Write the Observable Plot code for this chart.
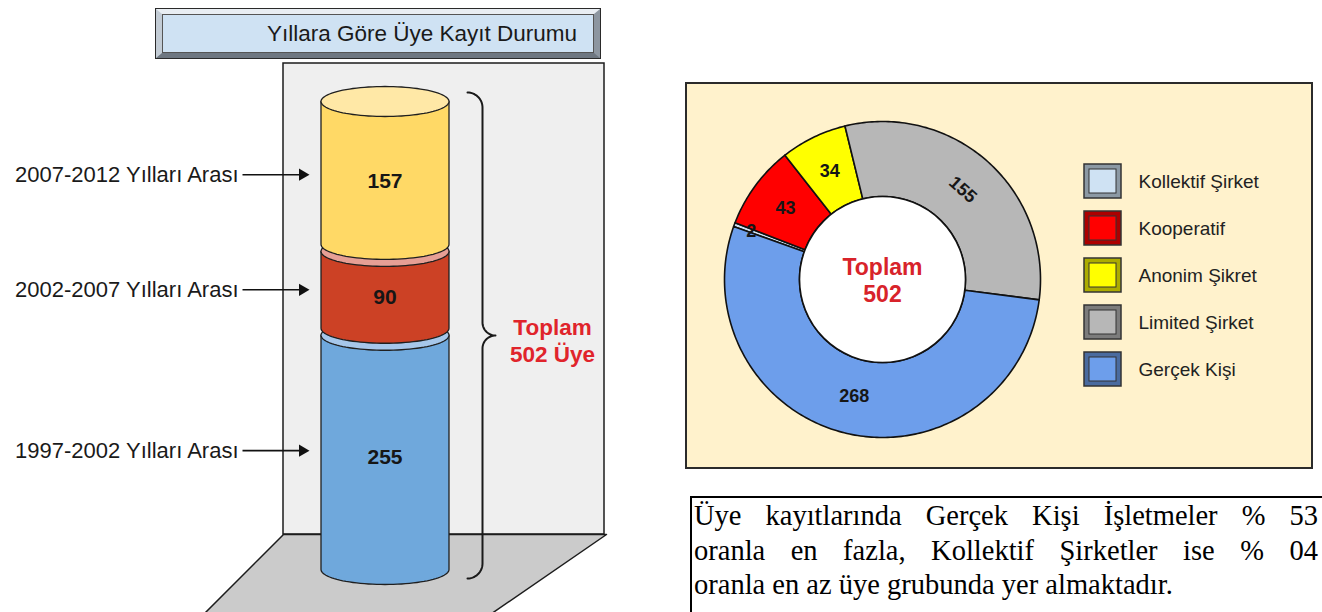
<!DOCTYPE html>
<html>
<head>
<meta charset="utf-8">
<script src="https://cdn.jsdelivr.net/npm/d3@7"></script>
<script src="https://cdn.jsdelivr.net/npm/@observablehq/plot@0.6"></script>
<style>
html, body { margin: 0; padding: 0; background: #fff; }
#page { position: relative; width: 1322px; height: 612px; overflow: hidden; font-family: "Liberation Sans", Arial, sans-serif; background: #fff; }
.abs { position: absolute; }
#titleBox { left: 155px; top: 8px; width: 446px; height: 51px; box-sizing: border-box; border: 1.5px solid #2a2a2a; }
#titleBevel { position: absolute; left: 0; top: 0; right: 0; bottom: 0; border-style: solid; border-width: 5px 6px; border-color: #e9eef3 #8d96a0 #6e7781 #c3ccd5; background: #cfe2f3; box-shadow: inset 0 0 0 1px #555; }
#titleText { left: 155px; top: 8px; width: 446px; height: 51px; line-height: 51px; padding-left: 112px; box-sizing: border-box; font-size: 22.5px; color: #1a1a1a; white-space: nowrap; }
#beige { left: 685px; top: 82px; width: 628px; height: 387px; box-sizing: border-box; background: #fff2cc; border: 2px solid #2b2b2b; }
#note { left: 690px; top: 496px; width: 640px; height: 140px; box-sizing: border-box; border: 2px solid #000; padding: 1px 10px 0 2px; font-family: "Liberation Serif", "Times New Roman", serif; font-size: 28.5px; line-height: 34.5px; color: #000; }
#note .ln { text-align: justify; text-align-last: justify; white-space: nowrap; }
#note .ln.last { text-align-last: left; }
</style>
</head>
<body>
<div id="page">
  <div id="leftBg" class="abs" style="left:0;top:0;width:680px;height:612px;"></div>
  <div id="leftFg" class="abs" style="left:0;top:0;width:680px;height:612px;"></div>
  <div id="titleBox" class="abs"><div id="titleBevel"></div></div>
  <div id="titleText" class="abs"></div>
  <div id="beige" class="abs"></div>
  <div id="donut" class="abs" style="left:712px;top:109px;width:340px;height:340px;"></div>
  <div id="legend" class="abs" style="left:1084px;top:150px;width:230px;height:250px;"></div>
  <div id="note" class="abs"></div>
</div>
<script>
// ================= DATA =================
const chartTitle = "Yıllara Göre Üye Kayıt Durumu";
const periods = ["1997-2002 Yılları Arası", "2002-2007 Yılları Arası", "2007-2012 Yılları Arası"]; // bottom to top
const periodMembers = [255, 90, 157];
const periodTotal = 502;

const companyTypes = ["Kollektif Şirket", "Kooperatif", "Anonim Şikret", "Limited Şirket", "Gerçek Kişi"];
const companyMembers = [2, 43, 34, 155, 268];
const companyTotal = 502;

const noteLines = [
  "Üye kayıtlarında Gerçek Kişi İşletmeler % 53",
  "oranla en fazla, Kollektif Şirketler ise % 04",
  "oranla en az üye grubunda yer almaktadır."
];

// ================= STYLES / LAYOUT =================
const periodColors = ["#6fa8dc", "#cc4125", "#ffd966"];
const periodTopColors = ["#a6c7ea", "#e69f95", "#ffe8a6"];
const companyColors = ["#cfe2f3", "#ff0000", "#ffff00", "#b7b7b7", "#6d9eeb"];
const FONT = "Liberation Sans, Arial, sans-serif";
const CYL = {cx: 384.5, rx: 64, top: 101, bottom: 569, ry: 15, gap: 7};
const PANEL = {x1: 283, x2: 604, y1: 63, y2: 534};
const FLOOR = [[283, 534], [606, 534], [452, 640], [177, 640], [283, 534]];
const BRACE = {x0: 467, xs: 482, xt: 495};
const DON = {half: 170, ro: 158, ri: 83, start: 289.6 * Math.PI / 180};

document.getElementById("titleText").textContent = chartTitle;
document.getElementById("note").innerHTML = noteLines
  .map((t, i) => `<div class="ln${i === noteLines.length - 1 ? " last" : ""}">${t}</div>`).join("");

// ================= LEFT: background (panel + floor) =================
const bg = Plot.plot({
  width: 680, height: 612, margin: 0,
  x: {domain: [0, 680], range: [0, 680], axis: null},
  y: {domain: [0, 612], range: [0, 612], axis: null},
  style: {background: "transparent", overflow: "visible"},
  marks: [
    Plot.rect([PANEL], {x1: "x1", x2: "x2", y1: "y1", y2: "y2", fill: "#efefef", stroke: "#1c1c1c", strokeWidth: 1.5}),
    Plot.line(FLOOR, {x: d => d[0], y: d => d[1], fill: "#cbcbcb", stroke: "#1c1c1c", strokeWidth: 1.5})
  ]
});
document.getElementById("leftBg").appendChild(bg);

// ================= LEFT: cylinder =================
const k = (CYL.bottom - CYL.top) / periodTotal; // px per member
const ryU = CYL.ry / k, gapU = CYL.gap / k;
const cum = Array.from(d3.cumsum([0, ...periodMembers]));
const L = CYL.cx - CYL.rx, R = CYL.cx + CYL.rx;
const segs = periods.map((p, i) => ({
  period: p,
  value: periodMembers[i],
  y0: cum[i] + (i > 0 ? gapU / 2 : 0),
  y1: cum[i + 1] - (i < periods.length - 1 ? gapU / 2 : 0),
  mid: (cum[i] + cum[i + 1]) / 2,
  color: periodColors[i],
  top: periodTopColors[i]
}));
function bodyPts(s) {
  const pts = [[L, s.y1], [L, s.y0]];
  for (let j = 0; j <= 48; j++) {
    const t = Math.PI * j / 48;
    pts.push([CYL.cx - CYL.rx * Math.cos(t), s.y0 - ryU * Math.sin(t)]);
  }
  pts.push([R, s.y1], [L, s.y1]);
  return pts;
}
function topPts(s) {
  const pts = [];
  for (let j = 0; j <= 96; j++) {
    const t = 2 * Math.PI * j / 96;
    pts.push([CYL.cx + CYL.rx * Math.cos(t), s.y1 + ryU * Math.sin(t)]);
  }
  return pts;
}
const cylMarks = [];
for (const s of segs) {
  cylMarks.push(Plot.line(bodyPts(s), {x: d => d[0], y: d => d[1], fill: s.color, stroke: "#1f1f1f", strokeWidth: 1.3, strokeLinejoin: "round"}));
  cylMarks.push(Plot.line(topPts(s), {x: d => d[0], y: d => d[1], fill: s.top, stroke: "#1f1f1f", strokeWidth: 1.3}));
}
// brace
const bTop = periodTotal + ryU * 0.6, bBot = -ryU * 0.6, bMid = (bTop + bBot) / 2;
const rh = BRACE.xs - BRACE.x0, rt = BRACE.xt - BRACE.xs;
const rhU = rh / k, rtU = rt / k;
const bracePts = [];
const N = 16;
for (let j = 0; j <= N; j++) { const t = Math.PI / 2 * j / N; bracePts.push([BRACE.x0 + rh * Math.sin(t), bTop - rhU + rhU * Math.cos(t)]); }
for (let j = 0; j <= N; j++) { const t = Math.PI / 2 * j / N; bracePts.push([BRACE.xt - rt * Math.cos(t), bMid + rtU - rtU * Math.sin(t)]); }
for (let j = 0; j <= N; j++) { const t = Math.PI / 2 * j / N; bracePts.push([BRACE.xt - rt * Math.sin(t), bMid - rtU + rtU * Math.cos(t)]); }
for (let j = 0; j <= N; j++) { const t = Math.PI / 2 * j / N; bracePts.push([BRACE.x0 + rh * Math.cos(t), bBot + rhU - rhU * Math.sin(t)]); }

const fg = Plot.plot({
  width: 680, height: 612, margin: 0,
  x: {domain: [0, 680], range: [0, 680], axis: null},
  y: {domain: [0, periodTotal], range: [CYL.bottom, CYL.top], axis: null},
  style: {background: "transparent", overflow: "visible", fontFamily: FONT},
  marks: [
    ...cylMarks,
    Plot.text(segs, {x: CYL.cx, y: "mid", text: d => String(d.value), dy: 7, fontSize: 21, fontWeight: "bold", fill: "#161616"}),
    Plot.text(segs, {x: 238, y: "mid", text: "period", textAnchor: "end", fontSize: 22, fill: "#1a1a1a"}),
    Plot.link(segs, {x1: 242, x2: 299, y1: "mid", y2: "mid", stroke: "#111", strokeWidth: 1.6}),
    Plot.dot(segs, {x: 302, y: "mid", symbol: "triangle", rotate: 90, r: 4.5, fill: "#111", stroke: null}),
    Plot.line(bracePts, {x: d => d[0], y: d => d[1], stroke: "#1a1a1a", strokeWidth: 2, fill: "none"}),
    Plot.text([periodTotal], {x: 552, y: bMid, dy: 4, text: d => `Toplam\n${d} Üye`, fontSize: 22.5, fontWeight: "bold", lineHeight: 1.2, fill: "#e0242b"})
  ]
});
document.getElementById("leftFg").appendChild(fg);

// ================= RIGHT: donut =================
const companies = companyTypes.map((name, i) => ({name, value: companyMembers[i], color: companyColors[i]}));
const arcs = d3.pie().sort(null).value(d => d.value).startAngle(DON.start).endAngle(DON.start + 2 * Math.PI)(companies);
function annulus(a) {
  const n = Math.max(2, Math.ceil((a.endAngle - a.startAngle) / (Math.PI / 180)));
  const pts = [];
  for (let j = 0; j <= n; j++) { const t = a.startAngle + (a.endAngle - a.startAngle) * j / n; pts.push([DON.ro * Math.sin(t), DON.ro * Math.cos(t)]); }
  for (let j = n; j >= 0; j--) { const t = a.startAngle + (a.endAngle - a.startAngle) * j / n; pts.push([DON.ri * Math.sin(t), DON.ri * Math.cos(t)]); }
  pts.push(pts[0]);
  return pts;
}
const labels = arcs.map(a => {
  const m = (a.startAngle + a.endAngle) / 2;
  const small = (a.endAngle - a.startAngle) < 0.1;
  const rl = small ? DON.ro - 18 : (DON.ro + DON.ri) / 2;
  return {name: a.data.name, value: a.data.value, x: rl * Math.sin(m), y: rl * Math.cos(m), deg: ((m * 180 / Math.PI) % 360 + 360) % 360};
});
const donutMarks = arcs.map(a => Plot.line(annulus(a), {x: d => d[0], y: d => d[1], fill: a.data.color, stroke: "#111", strokeWidth: 1.6, strokeLinejoin: "round"}));
const donut = Plot.plot({
  width: 2 * DON.half, height: 2 * DON.half, margin: 0,
  x: {domain: [-DON.half, DON.half], range: [0, 2 * DON.half], axis: null},
  y: {domain: [-DON.half, DON.half], range: [2 * DON.half, 0], axis: null},
  style: {background: "transparent", overflow: "visible", fontFamily: FONT},
  marks: [
    ...donutMarks,
    Plot.dot([0], {x: 0, y: 0, r: DON.ri, fill: "white", stroke: "#111", strokeWidth: 1.6}),
    Plot.text(labels.filter(d => d.name !== "Limited Şirket"), {x: "x", y: "y", text: d => String(d.value), fontSize: 18, fontWeight: "bold", fill: "#161616"}),
    Plot.text(labels.filter(d => d.name === "Limited Şirket"), {x: "x", y: "y", text: d => String(d.value), rotate: d => d.deg, fontSize: 18, fontWeight: "bold", fill: "#161616"}),
    Plot.text([companyTotal], {x: 0, y: 0, text: d => `Toplam\n${d}`, fontSize: 23, fontWeight: "bold", lineHeight: 1.17, fill: "#d8232a"})
  ]
});
document.getElementById("donut").appendChild(donut);

// ================= RIGHT: legend =================
const legend = Plot.plot({
  width: 230, height: 250, margin: 0,
  x: {domain: [0, 230], range: [0, 230], axis: null},
  y: {type: "band", domain: companyTypes, range: [12, 238], paddingInner: 0.27, paddingOuter: 0, axis: null},
  color: {type: "identity"},
  style: {background: "transparent", overflow: "visible", fontFamily: FONT},
  marks: [
    Plot.barX(companies, {x1: 0, x2: 37, y: "name", fill: d => d3.color(d.color).darker(1.1).formatHex(), stroke: "#333", strokeWidth: 1.5}),
    Plot.barX(companies, {x1: 5, x2: 32, y: "name", insetTop: 5, insetBottom: 5, fill: "color", stroke: "#333", strokeWidth: 1}),
    Plot.text(companies, {x: 54, y: "name", text: "name", textAnchor: "start", fontSize: 19, fill: "#222"})
  ]
});
document.getElementById("legend").appendChild(legend);
</script>
</body>
</html>
